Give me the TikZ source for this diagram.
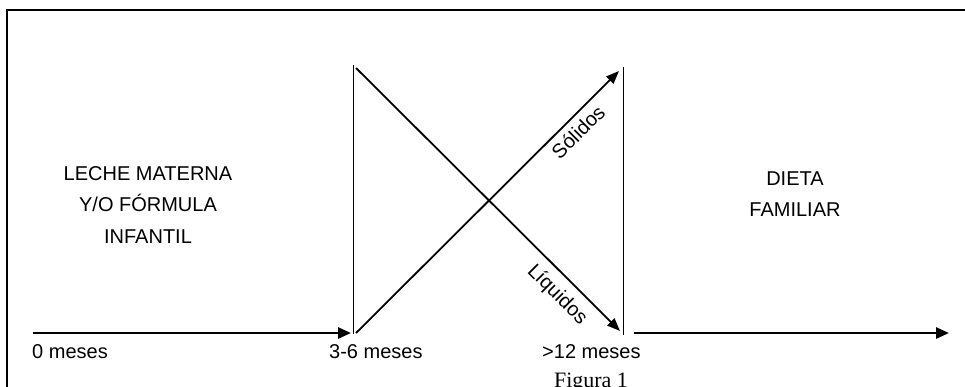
\documentclass[tikz,border=0pt]{standalone}
\usepackage{fontspec}
\setmainfont{Liberation Sans}
\newfontfamily\figfont{Liberation Serif}
\usetikzlibrary{arrows.meta}

\begin{document}
\begin{tikzpicture}[x=1pt,y=-1pt,
    flecha/.style={line width=2.6pt,-{Triangle[length=13pt,width=11pt]}},
    diag/.style={line width=1.8pt,-{Triangle[length=13pt,width=10pt]}},
    etiqueta/.style={font=\fontsize{20}{24}\selectfont,inner sep=0pt},
    bloque/.style={font=\fontsize{20}{31.5}\selectfont,align=center,inner sep=0pt}]

    % marco
    \useasboundingbox (0,0) rectangle (965,386);
    \draw[line width=1.5pt] (7,10) rectangle (980,400);

    % puntos
    \coordinate (I0) at (33,333);
    \coordinate (I1) at (351,333);
    \coordinate (D0) at (634,333);
    \coordinate (D1) at (949,333);
    \coordinate (VA) at (353,65);
    \coordinate (VB) at (353,334);
    \coordinate (WA) at (623,67);
    \coordinate (WB) at (623,335);
    \coordinate (LA) at (356,68);
    \coordinate (LB) at (620,331);
    \coordinate (SA) at (356,333);
    \coordinate (SB) at (619,71);

    % lineas
    \draw[flecha] (I0) -- (I1);
    \draw[flecha] (D0) -- (D1);
    \draw[line width=0.9pt] (VA) -- (VB);
    \draw[line width=0.9pt] (WA) -- (WB);
    \draw[diag] (LA) -- (LB);
    \draw[diag] (SA) -- (SB);

    % textos
    \node[bloque] (leche) at (148,205) {LECHE MATERNA\\Y/O FÓRMULA\\INFANTIL};
    \node[bloque] (dieta) at (795,194) {DIETA\\FAMILIAR};
    \node[etiqueta,rotate=45] (solidos) at (578,132) {Sólidos};
    \node[etiqueta,rotate=-45] (liquidos) at (557,295) {Líquidos};
    \node[etiqueta,anchor=base west] (m0) at (32,358) {0 meses};
    \node[etiqueta,anchor=base west] (m36) at (329,358) {3-6 meses};
    \node[etiqueta,anchor=base west] (m12) at (542,358) {>12 meses};
    \node[font=\figfont\fontsize{22}{26}\selectfont,anchor=base,inner sep=0pt] (fig) at (591,387) {Figura 1};

\end{tikzpicture}
\end{document}
